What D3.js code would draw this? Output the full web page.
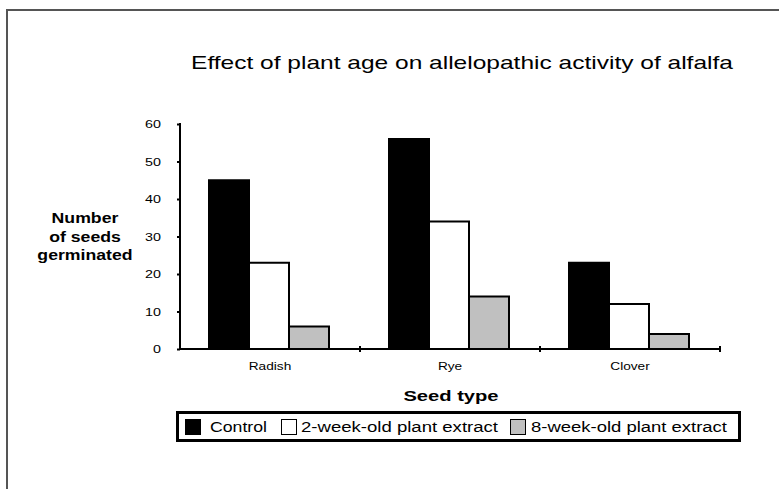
<!DOCTYPE html>
<html><head><meta charset="utf-8">
<script src="https://cdn.jsdelivr.net/npm/d3@7"></script>
<style>body{margin:0;background:#fff}svg{display:block;font-family:"Liberation Sans",Arial,sans-serif}</style>
</head><body><svg id="c" width="779" height="489"></svg>
<script>
const categories = ["Radish", "Rye", "Clover"];
const seriesNames = ["Control", "2-week-old plant extract", "8-week-old plant extract"];
const control = [45, 56, 23];
const week2 = [23, 34, 12];
const week8 = [6, 14, 4];
const yTicks = [0, 10, 20, 30, 40, 50, 60];
const colors = ["#000000", "#ffffff", "#c0c0c0"];

const series = [control, week2, week8];
const svg = d3.select("#c");

function stretch(sel, f) {
  sel.each(function () {
    const w = this.getComputedTextLength();
    d3.select(this).attr("textLength", w * f).attr("lengthAdjust", "spacingAndGlyphs");
  });
}

// outer frame
svg.append("path").attr("d", "M7,489 V10 H779").attr("fill", "none").attr("stroke", "#555").attr("stroke-width", 2);

const x0 = 180, x1 = 720, yTop = 124, yBase = 349;
const x = d3.scaleBand().domain(categories).range([x0, x1]).paddingInner(0).paddingOuter(0);
const y = d3.scaleLinear().domain([0, 60]).range([yBase, yTop]);
const inner = d3.scaleBand().domain(d3.range(3)).range([0, x.bandwidth()]).paddingOuter(0.75).paddingInner(0);

// title
stretch(svg.append("text").attr("x", 462).attr("y", 69).attr("text-anchor", "middle")
  .attr("font-size", 19).text("Effect of plant age on allelopathic activity of alfalfa"), 1.29);

// bars
categories.forEach((c, ci) => {
  series.forEach((s, si) => {
    svg.append("rect")
      .attr("x", x(c) + inner(si) - 1)
      .attr("y", y(s[ci]))
      .attr("width", inner.bandwidth())
      .attr("height", y(0) - y(s[ci]))
      .attr("fill", colors[si]).attr("stroke", "#000").attr("stroke-width", 2);
  });
});

// y axis
const ya = svg.append("g").attr("transform", `translate(${x0},0)`)
  .call(d3.axisLeft(y).tickValues(yTicks).tickSize(3).tickPadding(16));
ya.select(".domain").attr("stroke-width", 2).attr("d", `M0,${yTop - 1}V${yBase}`);
ya.selectAll(".tick line").attr("stroke-width", 2);
ya.selectAll(".tick text").attr("font-size", 11).attr("font-family", "Liberation Sans, Arial, sans-serif");
stretch(ya.selectAll(".tick text"), 1.3);

// x axis
const xa = svg.append("g").attr("transform", `translate(0,${yBase})`)
  .call(d3.axisBottom(x).tickSize(0).tickPadding(13));
xa.select(".domain").attr("stroke-width", 2).attr("d", `M${x0},0H${x1 + 1}`);
xa.selectAll(".tick text").attr("font-size", 11).attr("font-family", "Liberation Sans, Arial, sans-serif");
stretch(xa.selectAll(".tick text"), 1.24);
// category separators
xa.selectAll(".sep").data(categories).enter().append("line")
  .attr("x1", d => x(d) + x.bandwidth()).attr("x2", d => x(d) + x.bandwidth())
  .attr("y1", -3).attr("y2", 3).attr("stroke", "#000").attr("stroke-width", 2);

// axis titles
const yl = svg.append("text").attr("text-anchor", "middle").attr("font-weight", "bold").attr("font-size", 15.5);
["Number", "of seeds", "germinated"].forEach((t, i) => {
  stretch(yl.append("tspan").attr("x", 85).attr("y", 223 + i * 18.5).text(t), 1.14);
});
stretch(svg.append("text").attr("x", 451).attr("y", 401).attr("text-anchor", "middle")
  .attr("font-weight", "bold").attr("font-size", 15.5).text("Seed type"), 1.3);

// legend
svg.append("rect").attr("x", 177.5).attr("y", 412.5).attr("width", 562).attr("height", 28)
  .attr("fill", "#fff").attr("stroke", "#000").attr("stroke-width", 3);
const legX = [185, 281, 510];
const legT = [210, 301, 531];
const legW = [57, 197, 196];
seriesNames.forEach((n, i) => {
  svg.append("rect").attr("x", legX[i] + 0.5).attr("y", 419.5).attr("width", 15).attr("height", 15)
    .attr("fill", colors[i]).attr("stroke", "#000").attr("stroke-width", 1);
  svg.append("text").attr("x", legT[i]).attr("y", 432).attr("font-size", 14)
    .attr("textLength", legW[i]).attr("lengthAdjust", "spacingAndGlyphs").text(n);
});
</script></body></html>
